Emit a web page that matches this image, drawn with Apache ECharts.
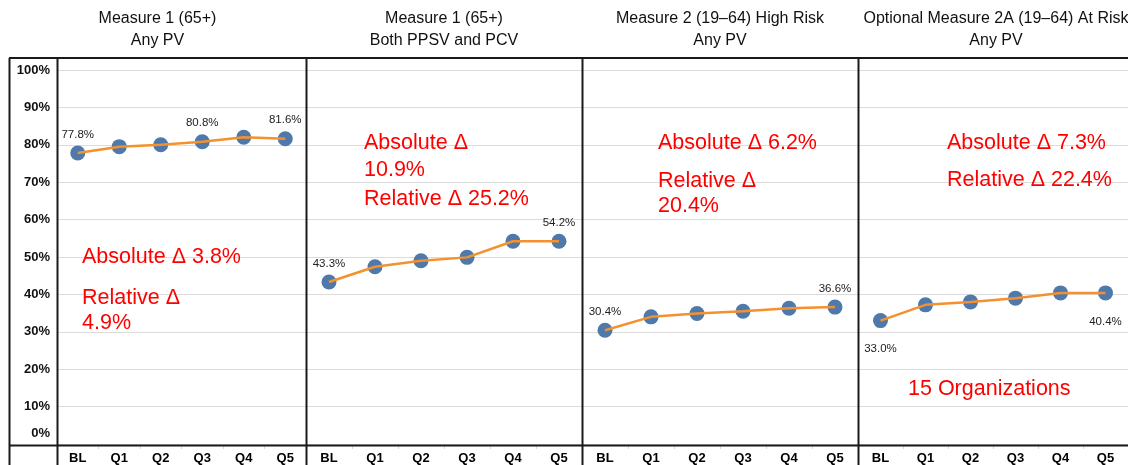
<!DOCTYPE html>
<html>
<head>
<meta charset="utf-8">
<script src="https://cdn.jsdelivr.net/npm/echarts@6/dist/echarts.min.js"></script>
<style>
  html, body { margin: 0; padding: 0; background: #fff; }
  #chart { width: 1128px; height: 465px; }
</style>
</head>
<body>
<div id="chart"></div>
<script>
// quarters on the x axis
const categories = ['BL', 'Q1', 'Q2', 'Q3', 'Q4', 'Q5'];
// panel headings
const panelTitles = [
  'Measure 1 (65+)\nAny PV',
  'Measure 1 (65+)\nBoth PPSV and PCV',
  'Measure 2 (19–64) High Risk\nAny PV',
  'Optional Measure 2A (19–64) At Risk\nAny PV',
];
// rates (%)
const m1AnyPv = [77.8, 79.5, 80.0, 80.8, 82.0, 81.6];
const m1BothPpsvPcv = [43.3, 47.4, 49.0, 49.9, 54.2, 54.2];
const m2HighRisk = [30.4, 34.0, 34.9, 35.5, 36.3, 36.6];
const m2aAtRisk = [33.0, 37.2, 38.0, 39.0, 40.4, 40.4];
const panelData = [m1AnyPv, m1BothPpsvPcv, m2HighRisk, m2aAtRisk];
// which points carry a value label
const labelledPoints = [[0, 3, 5], [0, 5], [0, 5], [0, 5]];
const yMin = 0;
const yMax = 100;
const yStep = 10;

// layout of the table-like panels
const panelLeft = [57, 306, 582, 858];
const panelWidth = [249, 276, 276, 276];
const plotTop = 70;
const plotBottom = 19.4;
const FONT = '"Liberation Sans", Arial, sans-serif';
const RED = '#FF0000';

const grids = [];
const xAxes = [];
const yAxes = [];
const series = [];

panelData.forEach((values, i) => {
  grids.push({
    left: panelLeft[i],
    width: panelWidth[i],
    top: plotTop,
    bottom: plotBottom,
  });
  xAxes.push({
    type: 'category',
    gridIndex: i,
    data: categories,
    boundaryGap: true,
    axisLine: { show: false },
    axisTick: {
      show: true,
      length: 5,
      lineStyle: { color: '#d8d8d8' },
    },
    axisLabel: {
      fontFamily: FONT,
      fontSize: 13,
      fontWeight: 'bold',
      color: '#000',
      margin: 8,
    },
  });
  yAxes.push({
    type: 'value',
    gridIndex: i,
    min: yMin,
    max: yMax,
    interval: yStep,
    axisLine: { show: false },
    axisTick: { show: false },
    splitLine: {
      show: true,
      lineStyle: { color: '#dcdcdc', width: 1 },
    },
    axisLabel: {
      show: i === 0,
      fontFamily: FONT,
      fontSize: 13,
      fontWeight: 'bold',
      color: '#111',
      margin: 7,
      formatter: (v) => (v === 0 ? '{z|0%}' : `${v}%`),
      rich: {
        z: {
          fontFamily: FONT,
          fontSize: 13,
          fontWeight: 'bold',
          color: '#111',
          padding: [0, 0, 22, 0],
        },
      },
    },
  });
  const below = i === 3;
  series.push({
    type: 'scatter',
    xAxisIndex: i,
    yAxisIndex: i,
    z: 2,
    symbol: 'circle',
    symbolSize: 15,
    itemStyle: { color: '#4F79AA', opacity: 1 },
    data: values.map((v, k) => ({
      value: v,
      label: {
        show: labelledPoints[i].includes(k),
        position: below ? 'bottom' : 'top',
        distance: below ? 15 : 5,
        fontFamily: FONT,
        fontSize: 11.5,
        color: '#222',
        formatter: (p) => `${p.value.toFixed(1)}%`,
      },
    })),
  });
  series.push({
    type: 'line',
    xAxisIndex: i,
    yAxisIndex: i,
    z: 3,
    symbol: 'none',
    lineStyle: { color: '#F4912E', width: 2.5 },
    data: values,
    silent: true,
  });
});

const graphic = [];
// headings
const titleCenters = [157.5, 444, 720, 996];
panelTitles.forEach((t, i) => {
  graphic.push({
    type: 'text',
    z: 100,
    style: {
      text: t,
      x: titleCenters[i],
      y: 8,
      align: 'center',
      verticalAlign: 'top',
      fontFamily: FONT,
      fontSize: 16,
      lineHeight: 22,
      fill: '#111',
    },
  });
});
// table borders
const border = '#1a1a1a';
const vLines = [9.5, 57.5, 306.5, 582.5, 858.5];
vLines.forEach((x) => {
  graphic.push({
    type: 'line',
    z: 100,
    shape: { x1: x, y1: 58, x2: x, y2: 465 },
    style: { stroke: border, lineWidth: 2 },
  });
});
[58, 445.5].forEach((y) => {
  graphic.push({
    type: 'line',
    z: 100,
    shape: { x1: 9, y1: y, x2: 1128, y2: y },
    style: { stroke: border, lineWidth: 2 },
  });
});
// red annotations
const notes = [
  { x: 82, y: 257, t: 'Absolute Δ 3.8%' },
  { x: 82, y: 298, t: 'Relative Δ' },
  { x: 82, y: 323, t: '4.9%' },
  { x: 364, y: 143, t: 'Absolute Δ' },
  { x: 364, y: 170, t: '10.9%' },
  { x: 364, y: 199, t: 'Relative Δ 25.2%' },
  { x: 658, y: 143, t: 'Absolute Δ 6.2%' },
  { x: 658, y: 181, t: 'Relative Δ' },
  { x: 658, y: 206, t: '20.4%' },
  { x: 947, y: 143, t: 'Absolute Δ 7.3%' },
  { x: 947, y: 180, t: 'Relative Δ 22.4%' },
  { x: 908, y: 389, t: '15 Organizations' },
];
notes.forEach((n) => {
  graphic.push({
    type: 'text',
    z: 100,
    style: {
      text: n.t,
      x: n.x,
      y: n.y,
      align: 'left',
      verticalAlign: 'middle',
      fontFamily: FONT,
      fontSize: 21.5,
      fill: RED,
    },
  });
});

const chart = echarts.init(document.getElementById('chart'), null, { renderer: 'canvas' });
chart.setOption({
  animation: false,
  backgroundColor: '#fff',
  grid: grids,
  xAxis: xAxes,
  yAxis: yAxes,
  series,
  graphic,
});
</script>
</body>
</html>
